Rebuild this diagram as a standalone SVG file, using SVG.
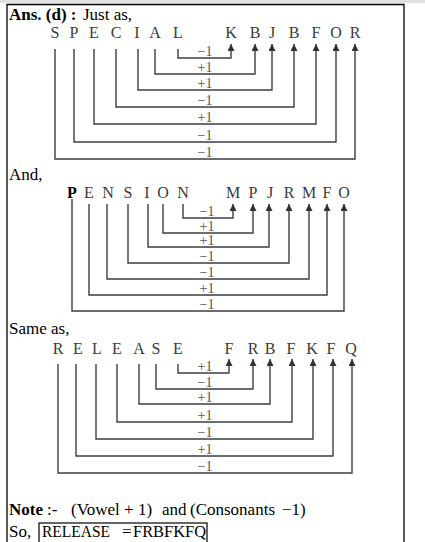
<svg xmlns="http://www.w3.org/2000/svg" width="425" height="542" viewBox="0 0 425 542">
<style>
.t{font-family:"Liberation Serif",serif;font-size:17px;fill:#000}
.b{font-weight:bold}
.l{font-family:"Liberation Serif",serif;font-size:16px;fill:#3a3a3a;text-anchor:middle}
.n{font-family:"Liberation Serif",serif;font-size:14px;fill:#555;text-anchor:middle}
.c{fill:none;stroke:#3a3f44;stroke-width:1.4}
.frame{fill:none;stroke:#000;stroke-width:1.3}
</style>
<defs>
<marker id="ah" markerUnits="userSpaceOnUse" markerWidth="8" markerHeight="8" refX="7" refY="3.5" orient="auto">
<path d="M0,0 L7,3.5 L0,7 z" fill="#2f3338"/>
</marker>
</defs>
<rect x="0" y="0" width="425" height="3" fill="#e2e2e2"/>
<path class="frame" d="M7,542 V4.5 H404 V542"/>

<g id="header1"><text class="t" y="20"><tspan class="b" x="9">Ans. (d) :</tspan><tspan x="83">Just as,</tspan></text></g>

<!-- Diagram 1 letters -->
<g id="d1-S"><text class="l" x="55" y="38">S</text></g>
<g id="d1-P"><text class="l" x="74" y="38">P</text></g>
<g id="d1-E"><text class="l" x="94" y="38">E</text></g>
<g id="d1-C"><text class="l" x="116" y="38">C</text></g>
<g id="d1-I"><text class="l" x="137" y="38">I</text></g>
<g id="d1-A"><text class="l" x="155" y="38">A</text></g>
<g id="d1-L"><text class="l" x="178" y="38">L</text></g>
<g id="d1-K"><text class="l" x="231" y="38">K</text></g>
<g id="d1-B1"><text class="l" x="255" y="38">B</text></g>
<g id="d1-J"><text class="l" x="272" y="38">J</text></g>
<g id="d1-B2"><text class="l" x="294" y="38">B</text></g>
<g id="d1-F"><text class="l" x="316" y="38">F</text></g>
<g id="d1-O"><text class="l" x="336" y="38">O</text></g>
<g id="d1-R"><text class="l" x="355" y="38">R</text></g>

<g id="header2"><text class="t" x="9" y="180">And,</text></g>

<!-- Diagram 2 letters -->
<g id="d2-P"><text class="l" x="72" y="198" style="font-weight:bold;fill:#000">P</text></g>
<g id="d2-E"><text class="l" x="89" y="198">E</text></g>
<g id="d2-N1"><text class="l" x="108" y="198">N</text></g>
<g id="d2-S"><text class="l" x="128" y="198">S</text></g>
<g id="d2-I"><text class="l" x="147" y="198">I</text></g>
<g id="d2-O"><text class="l" x="163" y="198">O</text></g>
<g id="d2-N2"><text class="l" x="183" y="198">N</text></g>
<g id="d2-M1"><text class="l" x="233" y="198">M</text></g>
<g id="d2-P2"><text class="l" x="253" y="198">P</text></g>
<g id="d2-J"><text class="l" x="270" y="198">J</text></g>
<g id="d2-R"><text class="l" x="289" y="198">R</text></g>
<g id="d2-M2"><text class="l" x="309" y="198">M</text></g>
<g id="d2-F"><text class="l" x="327" y="198">F</text></g>
<g id="d2-O2"><text class="l" x="344" y="198">O</text></g>

<g id="header3"><text class="t" x="9" y="334">Same as,</text></g>

<!-- Diagram 3 letters -->
<g id="d3-R"><text class="l" x="58" y="354">R</text></g>
<g id="d3-E1"><text class="l" x="78" y="354">E</text></g>
<g id="d3-L"><text class="l" x="97" y="354">L</text></g>
<g id="d3-E2"><text class="l" x="117" y="354">E</text></g>
<g id="d3-A"><text class="l" x="139" y="354">A</text></g>
<g id="d3-S"><text class="l" x="156" y="354">S</text></g>
<g id="d3-E3"><text class="l" x="178" y="354">E</text></g>
<g id="d3-F1"><text class="l" x="229" y="354">F</text></g>
<g id="d3-R2"><text class="l" x="253" y="354">R</text></g>
<g id="d3-B"><text class="l" x="270" y="354">B</text></g>
<g id="d3-F2"><text class="l" x="291" y="354">F</text></g>
<g id="d3-K"><text class="l" x="312" y="354">K</text></g>
<g id="d3-F3"><text class="l" x="331" y="354">F</text></g>
<g id="d3-Q"><text class="l" x="351" y="354">Q</text></g>

<g id="connectors">
<!-- Diagram 1 -->
<path class="c" marker-end="url(#ah)" d="M178,49 V58 H231 V44"/>
<path class="c" marker-end="url(#ah)" d="M155,49 V74 H255 V44"/>
<path class="c" marker-end="url(#ah)" d="M138,49 V90 H272 V44"/>
<path class="c" marker-end="url(#ah)" d="M116,49 V107 H294 V44"/>
<path class="c" marker-end="url(#ah)" d="M94,49 V124 H316 V44"/>
<path class="c" marker-end="url(#ah)" d="M74,49 V142 H336 V44"/>
<path class="c" marker-end="url(#ah)" d="M55,49 V159 H355 V44"/>
<!-- Diagram 2 -->
<path class="c" marker-end="url(#ah)" d="M183,204 V218 H233 V204"/>
<path class="c" marker-end="url(#ah)" d="M163,204 V233 H253 V204"/>
<path class="c" marker-end="url(#ah)" d="M148,204 V247 H269 V204"/>
<path class="c" marker-end="url(#ah)" d="M128,204 V263 H289 V204"/>
<path class="c" marker-end="url(#ah)" d="M107,204 V279 H309 V204"/>
<path class="c" marker-end="url(#ah)" d="M89,204 V295 H327 V204"/>
<path class="c" marker-end="url(#ah)" d="M72,199 V311 H344 V204"/>
<!-- Diagram 3 -->
<path class="c" marker-end="url(#ah)" d="M178,364 V373 H229 V359"/>
<path class="c" marker-end="url(#ah)" d="M156,364 V389 H253 V359"/>
<path class="c" marker-end="url(#ah)" d="M139,364 V404 H270 V359"/>
<path class="c" marker-end="url(#ah)" d="M117,364 V422 H292 V359"/>
<path class="c" marker-end="url(#ah)" d="M96,364 V439 H313 V359"/>
<path class="c" marker-end="url(#ah)" d="M76,364 V456 H333 V359"/>
<path class="c" marker-end="url(#ah)" d="M58,364 V473 H352 V359"/>
</g>

<g id="labels">
<text class="n" x="205" y="55.5">−1</text>
<text class="n" x="205" y="71.5">+1</text>
<text class="n" x="205" y="87.5">+1</text>
<text class="n" x="205" y="104.5">−1</text>
<text class="n" x="205" y="121.5">+1</text>
<text class="n" x="205" y="139.5">−1</text>
<text class="n" x="205" y="156.5">−1</text>

<text class="n" x="207" y="215.5">−1</text>
<text class="n" x="207" y="230.5">+1</text>
<text class="n" x="207" y="244.5">+1</text>
<text class="n" x="207" y="260.5">−1</text>
<text class="n" x="207" y="276.5">−1</text>
<text class="n" x="207" y="292.5">+1</text>
<text class="n" x="207" y="308.5">−1</text>

<text class="n" x="205" y="370.5">+1</text>
<text class="n" x="205" y="386.5">−1</text>
<text class="n" x="205" y="401.5">+1</text>
<text class="n" x="205" y="419.5">+1</text>
<text class="n" x="205" y="436.5">−1</text>
<text class="n" x="205" y="453.5">+1</text>
<text class="n" x="205" y="470.5">−1</text>
</g>

<g id="note">
<text class="t" y="515"><tspan class="b" x="9">Note</tspan><tspan x="47">:-</tspan><tspan x="71">(Vowel + 1)</tspan><tspan x="162">and</tspan><tspan x="190">(Consonants</tspan><tspan x="282">−1)</tspan></text>
</g>
<g id="answer">
<text class="t" x="9" y="537">So,</text>
<rect x="39" y="523" width="168" height="22" fill="none" stroke="#000" stroke-width="1.2"/>
<text class="t" y="537"><tspan x="42" textLength="68" lengthAdjust="spacingAndGlyphs">RELEASE</tspan><tspan x="122">=</tspan><tspan x="133" textLength="73" lengthAdjust="spacingAndGlyphs">FRBFKFQ</tspan></text>
</g>
</svg>
